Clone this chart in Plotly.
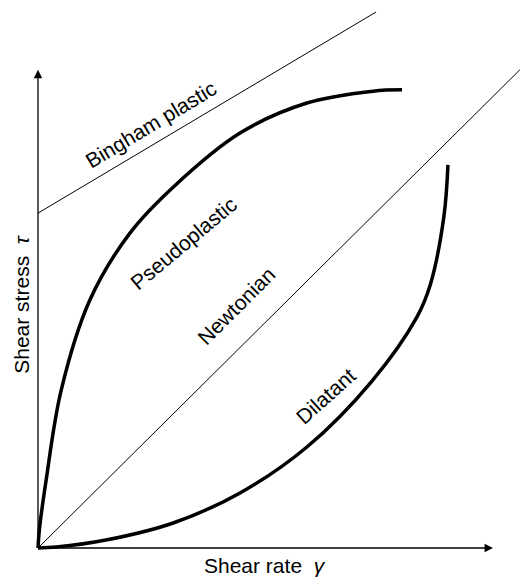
import plotly.graph_objects as go

# Data (arbitrary units: shear rate on x, shear stress on y)
pseudo_x = [0, 0.03, 0.18, 0.51, 1.14, 2.02, 2.97, 4.44, 5.91, 7.36, 8.00]
pseudo_y = [0, 0.40, 1.50, 3.47, 5.45, 6.92, 7.93, 9.12, 9.78, 10.04, 10.07]

dil_x = [0, 0.40, 1.52, 2.97, 4.44, 5.91, 7.34, 8.33, 8.62, 8.92, 9.01]
dil_y = [0, 0.02, 0.18, 0.55, 1.21, 2.22, 3.67, 5.08, 5.78, 7.28, 8.42]

bingham_x = [0, 7.43]
bingham_y = [7.36, 11.78]

newton_x = [0, 10.59]
newton_y = [0, 10.51]

axis_x_len = 10.0
axis_y_len = 10.51

labels = ["Bingham plastic", "Pseudoplastic", "Newtonian", "Dilatant"]

FONT = "Liberation Sans, Arial, Helvetica, sans-serif"
FS = 21

fig = go.Figure()

fig.add_trace(go.Scatter(x=bingham_x, y=bingham_y, mode="lines",
                         line=dict(color="black", width=1), cliponaxis=False))
fig.add_trace(go.Scatter(x=newton_x, y=newton_y, mode="lines",
                         line=dict(color="black", width=1), cliponaxis=False))
fig.add_trace(go.Scatter(x=pseudo_x, y=pseudo_y, mode="lines",
                         line=dict(color="black", width=3.5, shape="spline", smoothing=1.0),
                         cliponaxis=False))
fig.add_trace(go.Scatter(x=dil_x, y=dil_y, mode="lines",
                         line=dict(color="black", width=3.5, shape="spline", smoothing=1.0),
                         cliponaxis=False))

# Axes with arrowheads
fig.add_annotation(x=axis_x_len, y=0, ax=0, ay=0, xref="x", yref="y", axref="x", ayref="y",
                   showarrow=True, arrowhead=2, arrowsize=1.3, arrowwidth=1.3,
                   arrowcolor="black", text="")
fig.add_annotation(x=0, y=axis_y_len, ax=0, ay=0, xref="x", yref="y", axref="x", ayref="y",
                   showarrow=True, arrowhead=2, arrowsize=1.3, arrowwidth=1.3,
                   arrowcolor="black", text="")

label_pos = [(2.48, 9.30, -31), (3.19, 6.70, -40), (4.37, 5.32, -45), (6.31, 3.34, -42)]
for txt, (lx, ly, ang) in zip(labels, label_pos):
    fig.add_annotation(x=lx, y=ly, xref="x", yref="y", text=txt, showarrow=False,
                       textangle=ang, font=dict(family=FONT, size=FS, color="black"))

fig.add_annotation(x=4.99, y=-0.38, xref="x", yref="y", text="Shear rate\u00a0\u00a0<i>γ</i>",
                   showarrow=False, font=dict(family=FONT, size=FS, color="black"))
fig.add_annotation(x=-0.37, y=5.35, xref="x", yref="y", text="Shear stress\u00a0\u00a0<i>τ</i>",
                   showarrow=False, textangle=-90, font=dict(family=FONT, size=FS, color="black"))

fig.update_layout(
    width=520, height=577,
    margin=dict(l=0, r=0, t=0, b=0),
    paper_bgcolor="white", plot_bgcolor="white",
    showlegend=False,
    xaxis=dict(range=[-38/45.5, 482/45.5], visible=False),
    yaxis=dict(range=[-29/45.5, 548/45.5], visible=False),
)

fig.write_html("out.html", config={"displayModeBar": False},
               post_script="document.body.style.margin='0px';")
